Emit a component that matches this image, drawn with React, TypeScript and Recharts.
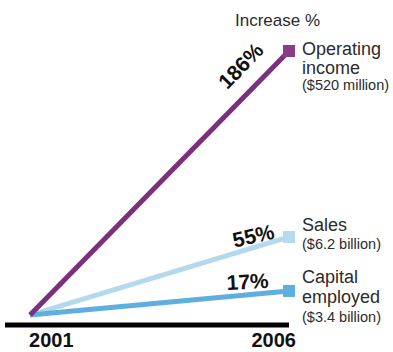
import React from 'react';
import { LineChart, Line, XAxis, YAxis } from 'recharts';

const years = [2001, 2006];
const operatingIncome = [0, 186];
const sales = [0, 55];
const capitalEmployed = [0, 17];

const data = years.map((year, i) => ({
  year,
  op: operatingIncome[i],
  sales: sales[i],
  cap: capitalEmployed[i],
}));

const FONT = '"Liberation Sans", Arial, Helvetica, sans-serif';
const TEXT = '#2b2b2b';

interface EndLabel {
  pct: string;
  pctDx: number;
  pctDy: number;
  pctAngle: number;
  squareFill: string;
  lines: { text: string; dy: number; size: number }[];
}

const endLabels: Record<string, EndLabel> = {
  op: {
    pct: '186%',
    pctDx: -43,
    pctDy: 20,
    pctAngle: -46,
    squareFill: '#8a3c88',
    lines: [
      { text: 'Operating', dy: 4, size: 18 },
      { text: 'income', dy: 23, size: 18 },
      { text: '($520 million)', dy: 39, size: 14.5 },
    ],
  },
  sales: {
    pct: '55%',
    pctDx: -34,
    pctDy: 6,
    pctAngle: -13,
    squareFill: '#b5dbee',
    lines: [
      { text: 'Sales', dy: -6, size: 18 },
      { text: '($6.2 billion)', dy: 12, size: 14.5 },
    ],
  },
  cap: {
    pct: '17%',
    pctDx: -41,
    pctDy: -2,
    pctAngle: -3,
    squareFill: '#5eaee0',
    lines: [
      { text: 'Capital', dy: -8, size: 18 },
      { text: 'employed', dy: 12, size: 18 },
      { text: '($3.4 billion)', dy: 31, size: 14.5 },
    ],
  },
};

const makeDot = (key: string) => (props: any) => {
  const { cx, cy, index } = props;
  if (index !== data.length - 1) return <g key={`${key}-${index}`} />;
  const l = endLabels[key];
  const px = cx + l.pctDx;
  const py = cy + l.pctDy;
  return (
    <g key={`${key}-${index}`}>
      <rect x={cx - 6} y={cy - 6} width={12} height={12} fill={l.squareFill} />
      <text
        x={px}
        y={py}
        textAnchor="middle"
        fontFamily={FONT}
        fontWeight="bold"
        fontSize={21}
        fill="#111"
        transform={`rotate(${l.pctAngle} ${px} ${py})`}
      >
        {l.pct}
      </text>
      {l.lines.map((ln, i) => (
        <text key={i} x={cx + 13} y={cy + ln.dy} fontFamily={FONT} fontSize={ln.size} fill={TEXT}>
          {ln.text}
        </text>
      ))}
    </g>
  );
};

const YearTick = (props: any) => {
  const { x, payload } = props;
  const first = payload.value === years[0];
  return (
    <text
      x={first ? x - 1 : x + 7}
      y={347}
      textAnchor={first ? 'start' : 'end'}
      fontFamily={FONT}
      fontWeight="bold"
      fontSize={20}
      fill="#111"
    >
      {payload.value}
    </text>
  );
};

export default function App() {
  return (
    <div style={{ position: 'absolute', left: 0, top: 0, width: 393, height: 352, background: '#fff' }}>
      <div
        style={{
          position: 'absolute',
          left: 235,
          top: 11,
          fontFamily: FONT,
          fontSize: 17,
          color: TEXT,
          lineHeight: '20px',
        }}
      >
        Increase %
      </div>
      <LineChart width={393} height={352} data={data} margin={{ top: 51, right: 104, bottom: 0, left: 5 }}>
        <XAxis
          type="number"
          dataKey="year"
          domain={[2000.517, 2006]}
          ticks={years}
          height={27}
          axisLine={{ stroke: '#000', strokeWidth: 5 }}
          tickLine={false}
          tick={<YearTick />}
        />
        <YAxis hide domain={[-7, 186]} />
        <Line
          dataKey="sales"
          stroke="#b3d9ec"
          strokeWidth={5}
          dot={makeDot('sales')}
          activeDot={false}
          isAnimationActive={false}
        />
        <Line
          dataKey="cap"
          stroke="#5eaee0"
          strokeWidth={5}
          dot={makeDot('cap')}
          activeDot={false}
          isAnimationActive={false}
        />
        <Line
          dataKey="op"
          stroke="#7b2f7e"
          strokeWidth={5}
          dot={makeDot('op')}
          activeDot={false}
          isAnimationActive={false}
        />
      </LineChart>
    </div>
  );
}
